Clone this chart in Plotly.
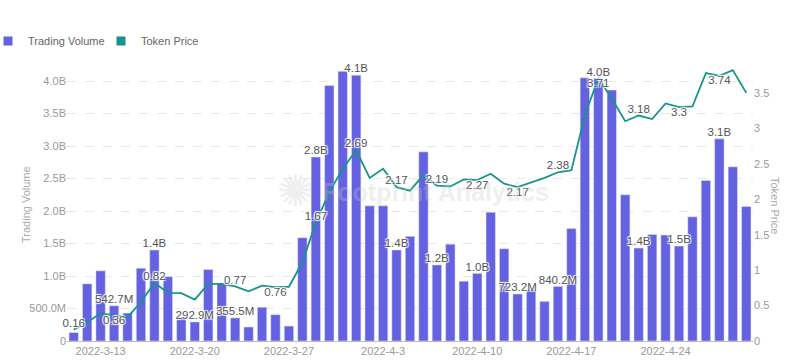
import pandas as pd
import plotly.graph_objects as go

# ---- data ----
dates = [d.strftime("%Y-") + str(d.month) + "-" + str(d.day)
         for d in pd.date_range("2022-03-11", "2022-04-30")]

volume_b = [0.13, 0.88, 1.08, 0.5427, 0.43, 1.12, 1.40, 0.99, 0.37, 0.2929,
            1.10, 0.89, 0.3555, 0.215, 0.52, 0.405, 0.23, 1.59, 2.83, 3.93,
            4.15, 4.09, 2.08, 2.08, 1.40, 1.61, 2.91, 1.17, 1.49, 0.92,
            1.04, 1.98, 1.42, 0.7232, 0.795, 0.61, 0.8402, 1.73, 4.05, 4.04,
            3.86, 2.25, 1.43, 1.64, 1.63, 1.46, 1.91, 2.47, 3.11, 2.68, 2.07]

price = [0.16, 0.265, 0.39, 0.36, 0.336, 0.55, 0.82, 0.68, 0.675, 0.585,
         0.805, 0.805, 0.77, 0.70, 0.78, 0.76, 0.765, 1.11, 1.67, 2.10,
         2.43, 2.69, 2.30, 2.43, 2.17, 2.12, 2.34, 2.19, 2.18, 2.28,
         2.27, 2.36, 2.22, 2.17, 2.23, 2.30, 2.38, 2.41, 3.18, 3.71,
         3.42, 3.10, 3.18, 3.13, 3.35, 3.30, 3.31, 3.78, 3.74, 3.82, 3.50]

volume_label_idx = [3, 6, 9, 12, 18, 21, 24, 27, 30, 33, 36, 39, 42, 45, 48]
price_label_idx = [0, 3, 6, 12, 15, 18, 21, 24, 27, 30, 33, 36, 39, 42, 45, 48]
price_label_below = [3, 15, 30, 33, 39, 45, 48]

x_tick_labels = ["2022-3-13", "2022-3-20", "2022-3-27", "2022-4-3",
                 "2022-4-10", "2022-4-17", "2022-4-24"]
y_tick_vals = [0, 0.5e9, 1.0e9, 1.5e9, 2.0e9, 2.5e9, 3.0e9, 3.5e9, 4.0e9]
y_tick_text = ["0", "500.0M", "1.0B", "1.5B", "2.0B", "2.5B", "3.0B", "3.5B", "4.0B"]
y2_tick_vals = [0, 0.5, 1, 1.5, 2, 2.5, 3, 3.5]
y2_tick_text = ["0", "0.5", "1", "1.5", "2", "2.5", "3", "3.5"]

# ---- styling ----
BAR = "#6462e0"
LINE = "#17958c"
FONT = "Liberation Sans, Arial, sans-serif"
HALO = "1px 1px 1px #fff, -1px -1px 1px #fff, 1px -1px 1px #fff, -1px 1px 1px #fff"

volume = [v * 1e9 for v in volume_b]


def fmt_vol(v):
    return f"{v/1e9:.1f}B" if v >= 1e9 else f"{v/1e6:.1f}M"


vol_text = [fmt_vol(v) if i in volume_label_idx else "" for i, v in enumerate(volume)]
price_text = [f"{p:g}" if i in price_label_idx else "" for i, p in enumerate(price)]
price_pos = ["bottom center" if i in price_label_below else "top center"
             for i in range(len(price))]

fig = go.Figure()
fig.add_trace(go.Bar(
    x=dates, y=volume, name="Trading Volume", marker_color=BAR,
    showlegend=False, hoverinfo="x+y",
))
fig.add_trace(go.Scatter(
    x=dates, y=price, name="Token Price", yaxis="y2", mode="lines",
    line=dict(color=LINE, width=1.8), showlegend=False,
))
# value labels drawn above all marks
fig.add_trace(go.Scatter(
    x=dates, y=volume, mode="text", text=vol_text, textposition="top center",
    cliponaxis=False, hoverinfo="skip", showlegend=False,
    textfont=dict(family=FONT, size=11.5, color="#555", shadow=HALO),
))
fig.add_trace(go.Scatter(
    x=dates, y=price, yaxis="y2", mode="text", text=price_text, textposition=price_pos,
    cliponaxis=False, hoverinfo="skip", showlegend=False,
    textfont=dict(family=FONT, size=11.5, color="#555", shadow=HALO),
))
# legend entries (square swatches)
fig.add_trace(go.Scatter(x=[None], y=[None], mode="markers", name="Trading Volume",
                         marker=dict(symbol="square", size=9, color=BAR)))
fig.add_trace(go.Scatter(x=[None], y=[None], mode="markers", name="Token Price",
                         marker=dict(symbol="square", size=9, color=LINE)))

W0, W1 = 67, 753
T, B = 65, 22
H = 363
plot_h = H - T - B

fig.update_layout(
    width=790, height=363,
    margin=dict(l=W0, r=790 - W1, t=T, b=B, autoexpand=False),
    paper_bgcolor="white", plot_bgcolor="white",
    font=dict(family=FONT, color="#999", size=11),
    bargap=0.3,
    legend=dict(orientation="h", x=(-12 - W0) / (W1 - W0), y=(H - B - 41) / plot_h,
                xanchor="left", yanchor="middle",
                font=dict(size=11, color="#666"), itemwidth=30,
                entrywidth=68, bgcolor="rgba(0,0,0,0)"),
    xaxis=dict(type="category", categoryorder="array", categoryarray=dates,
               range=[-0.5, len(dates) - 0.5],
               tickvals=x_tick_labels, ticktext=x_tick_labels,
               showgrid=False, showline=True, linecolor="#bbb", linewidth=1,
               tickfont=dict(size=11, color="#999"), ticks="", automargin=False),
    yaxis=dict(range=[0, plot_h / 65 * 1e9], tickvals=y_tick_vals, ticktext=y_tick_text,
               showgrid=True, gridcolor="#e8e8e8", griddash="dash", zeroline=False,
               showline=False, tickfont=dict(size=11, color="#999"), automargin=False),
    yaxis2=dict(range=[0, plot_h / 70.9], tickvals=y2_tick_vals, ticktext=y2_tick_text,
                overlaying="y", side="right", showgrid=False, zeroline=False,
                showline=False, tickfont=dict(size=11, color="#999"), automargin=False),
    annotations=[
        dict(text="Trading Volume", xref="paper", yref="paper",
             x=(18 - W0) / (W1 - W0), y=(H - B - 205) / plot_h, textangle=-90,
             showarrow=False, font=dict(size=11, color="#aaa")),
        dict(text="Token Price", xref="paper", yref="paper",
             x=(783 - W0) / (W1 - W0), y=(H - B - 205) / plot_h, textangle=90,
             showarrow=False, font=dict(size=11, color="#aaa")),
        dict(text="✺", xref="paper", yref="paper",
             x=(275 - W0) / (W1 - W0), y=(H - B - 190) / plot_h,
             showarrow=False, font=dict(size=44, color="rgba(200,200,200,0.3)")),
        dict(text="<b>Footprint Analytics</b>", xref="paper", yref="paper",
             x=(435 - W0) / (W1 - W0), y=(H - B - 192) / plot_h,
             showarrow=False, font=dict(size=25, color="rgba(200,200,200,0.3)")),
    ],
)

fig.write_html("out.html", config={"displayModeBar": False},
               post_script="document.body.style.margin='0';document.body.style.overflow='hidden';")
